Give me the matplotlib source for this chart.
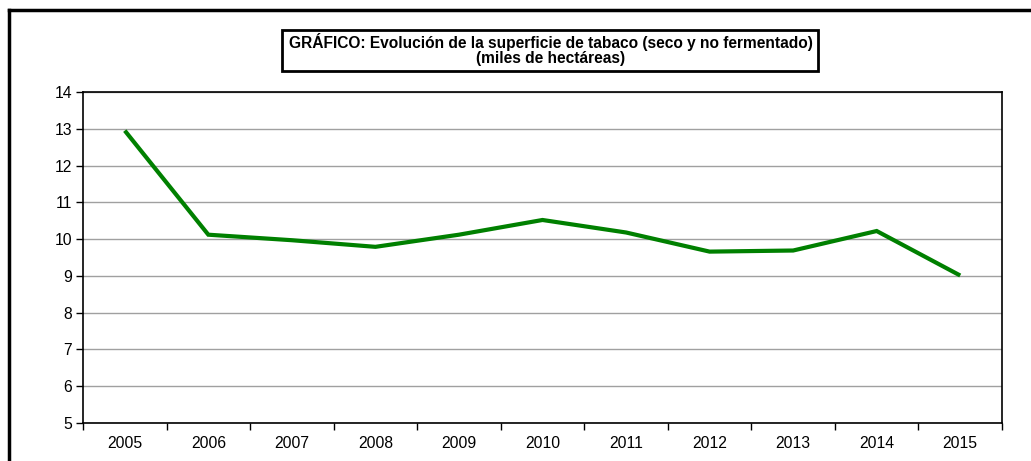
import matplotlib
matplotlib.use("Agg")
import matplotlib.pyplot as plt
from matplotlib.lines import Line2D
from matplotlib.patches import Rectangle

years = ["2005", "2006", "2007", "2008", "2009", "2010",
         "2011", "2012", "2013", "2014", "2015"]
superficie = [12.95, 10.12, 9.97, 9.79, 10.12, 10.52,
              10.18, 9.66, 9.69, 10.22, 9.01]
title_lines = ["GRÁFICO: Evolución de la superficie de tabaco (seco y no fermentado)",
               "(miles de hectáreas)"]

plt.rcParams["font.family"] = ["Liberation Sans", "DejaVu Sans"]

W, H = 1031, 461
fig = plt.figure(figsize=(W / 100, H / 100), dpi=100)
fig.patch.set_facecolor("white")

def fx(px):
    return px / W

def fy(py):
    return 1 - py / H

ax = fig.add_axes([fx(83), fy(423), fx(1002) - fx(83), fy(92) - fy(423)])

x = list(range(len(years)))
ax.plot(x, superficie, color="#008000", lw=3.0, solid_joinstyle="miter",
        solid_capstyle="butt", zorder=3)

ax.set_xlim(-0.5, len(years) - 0.5)
ax.set_ylim(5, 14)
ax.set_yticks(range(5, 15))
ax.set_yticklabels([str(v) for v in range(5, 15)], fontsize=11.3)
ax.set_xticks(x)
ax.set_xticklabels(years, fontsize=11.3)
ax.set_xticks([i - 0.5 for i in range(len(years) + 1)], minor=True)

ax.tick_params(axis="x", which="major", length=0, pad=9)
ax.tick_params(axis="x", which="minor", length=5, width=1, direction="out", color="black")
ax.tick_params(axis="y", which="major", length=5, width=1, direction="out", pad=3)

ax.grid(axis="y", color="#a0a0a0", lw=1.0, zorder=1)
ax.set_axisbelow(True)
for side in ["left", "bottom", "top", "right"]:
    ax.spines[side].set_color("black")
    ax.spines[side].set_linewidth(1.2)

# outer chart frame (left and top edges)
fig.add_artist(Line2D([fx(8.5), fx(8.5)], [0, fy(10)], transform=fig.transFigure,
                      color="black", lw=2.5, solid_capstyle="projecting"))
fig.add_artist(Line2D([fx(8.5), 1.0], [fy(10), fy(10)], transform=fig.transFigure,
                      color="black", lw=2.5, solid_capstyle="projecting"))

# title box
fig.add_artist(Rectangle((fx(282), fy(71)), fx(818) - fx(282), fy(30) - fy(71),
                         transform=fig.transFigure, facecolor="white",
                         edgecolor="black", lw=2.0))
fig.text(fx(551), fy(42), title_lines[0], ha="center", va="center",
         fontsize=11.2, fontweight="bold")
fig.text(fx(551), fy(59), title_lines[1], ha="center", va="center",
         fontsize=11.2, fontweight="bold")

fig.savefig("out.png", dpi=100)
